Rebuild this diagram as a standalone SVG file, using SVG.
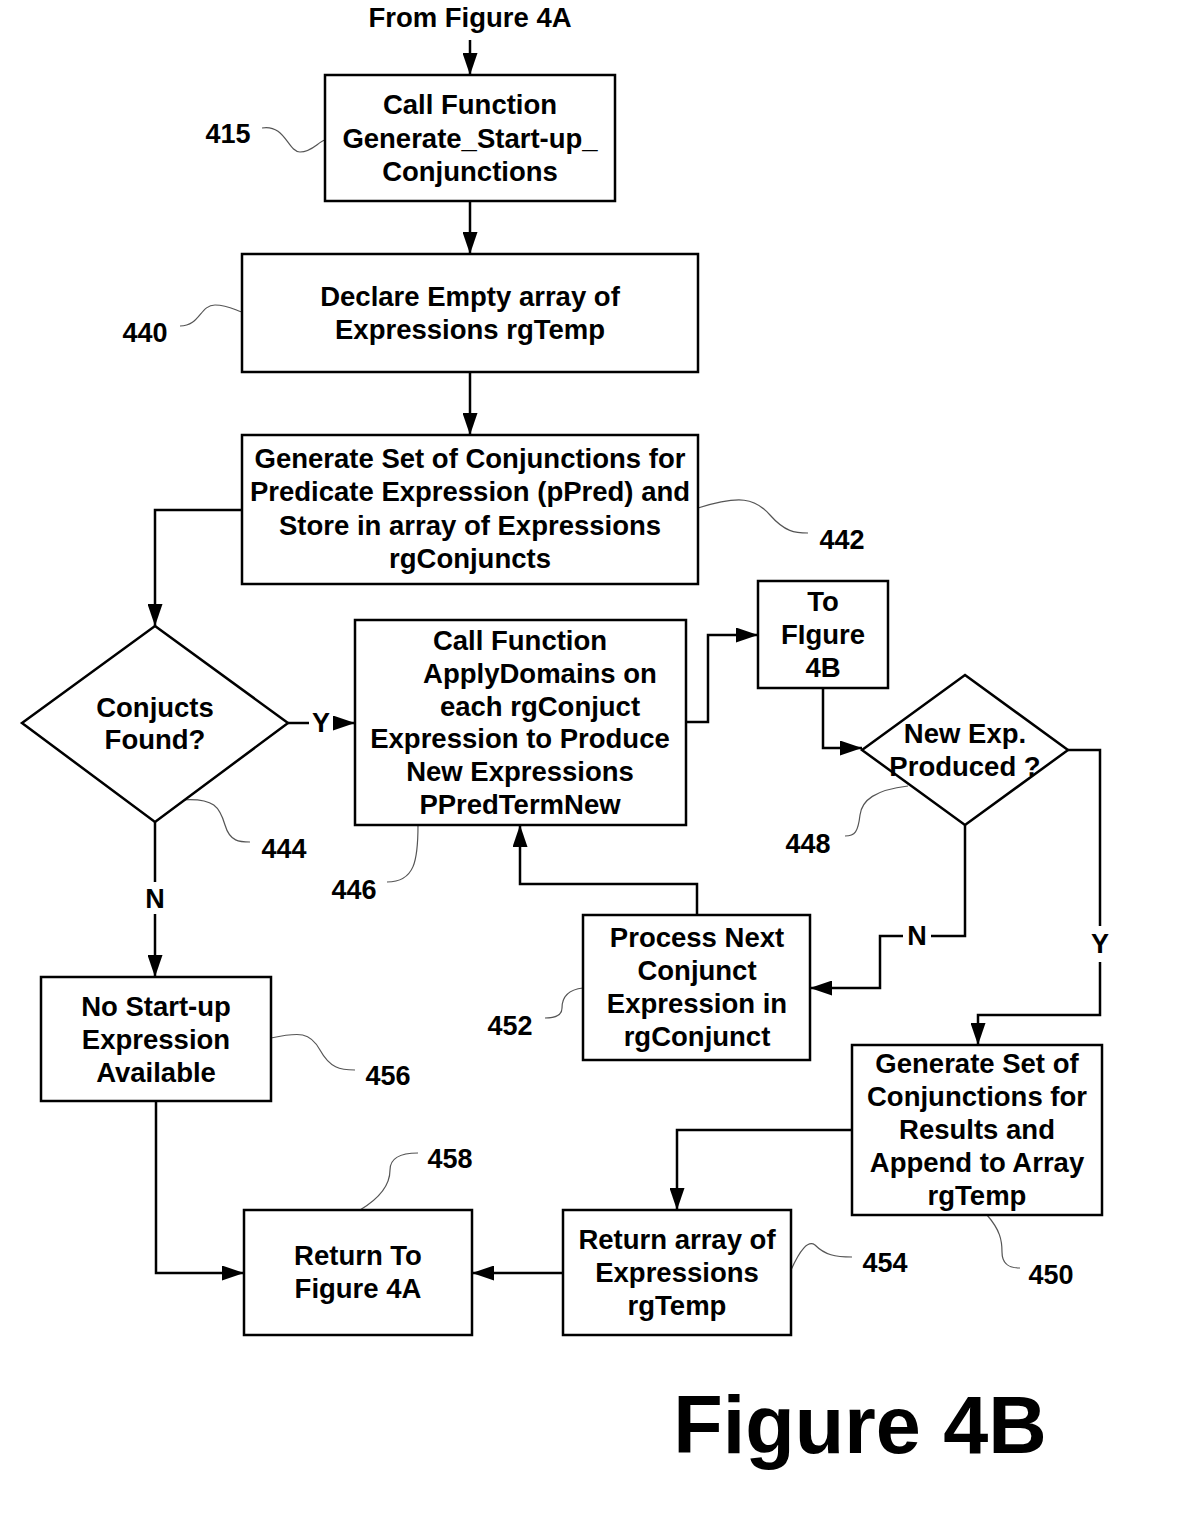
<svg xmlns="http://www.w3.org/2000/svg" width="1200" height="1526" viewBox="0 0 1200 1526">
<style>
.box{fill:#fff;stroke:#000;stroke-width:2.5}
.t{font-family:"Liberation Sans",Arial,sans-serif;font-weight:bold;font-size:27.5px;fill:#000;text-anchor:middle}
.n{font-family:"Liberation Sans",Arial,sans-serif;font-weight:bold;font-size:27px;fill:#000;text-anchor:middle}
.c{fill:none;stroke:#000;stroke-width:2.5}
.lead{fill:none;stroke:#555;stroke-width:1.2}
</style>
<defs>
<marker id="ah" viewBox="0 0 22 15" refX="22" refY="7.5" markerWidth="22" markerHeight="15" markerUnits="userSpaceOnUse" orient="auto">
<path d="M0,0 L22,7.5 L0,15 Z" fill="#000"/>
</marker>
</defs>
<rect width="1200" height="1526" fill="#fff"/>

<g id="connectors">
<path class="c" d="M470,40 V75" marker-end="url(#ah)"/>
<path class="c" d="M470,201 V254" marker-end="url(#ah)"/>
<path class="c" d="M470,372 V435" marker-end="url(#ah)"/>
<path class="c" d="M242,510 H155 V626" marker-end="url(#ah)"/>
<path class="c" d="M288,723 H309"/>
<path class="c" d="M333,723 H355" marker-end="url(#ah)"/>
<path class="c" d="M686,722 H708 V635 H758" marker-end="url(#ah)"/>
<path class="c" d="M823,688 V748 H862" marker-end="url(#ah)"/>
<path class="c" d="M1068,750 H1100 V926"/>
<path class="c" d="M1100,962 V1015 H978 V1045" marker-end="url(#ah)"/>
<path class="c" d="M965,825 V936 H931"/>
<path class="c" d="M903,936 H880 V988 H810" marker-end="url(#ah)"/>
<path class="c" d="M697,915 V884 H520 V825" marker-end="url(#ah)"/>
<path class="c" d="M155,822 V882"/>
<path class="c" d="M155,914 V977" marker-end="url(#ah)"/>
<path class="c" d="M156,1101 V1273 H244" marker-end="url(#ah)"/>
<path class="c" d="M563,1273 H472" marker-end="url(#ah)"/>
<path class="c" d="M852,1130 H677 V1210" marker-end="url(#ah)"/>
<text class="n" x="321" y="732">Y</text>
<text class="n" x="917" y="945">N</text>
<text class="n" x="1100" y="953">Y</text>
<text class="n" x="155" y="908">N</text>
</g>

<g id="leaders">
<path class="lead" d="M262,128 C285,124 288,152 300,152 C312,152 318,142 325,140"/>
<path class="lead" d="M180,326 C200,326 200,305 215,305 C228,305 235,310 242,312"/>
<path class="lead" d="M698,508 C740,495 755,498 770,515 C785,532 795,533 808,533"/>
<path class="lead" d="M180,800 C215,797 220,808 225,825 C230,842 240,842 250,842"/>
<path class="lead" d="M418,825 C418,860 415,882 387,882"/>
<path class="lead" d="M908,786 C875,790 862,800 860,815 C858,832 855,836 845,836"/>
<path class="lead" d="M583,988 C565,990 562,1000 562,1008 C562,1016 555,1018 545,1018"/>
<path class="lead" d="M271,1038 C300,1032 310,1032 320,1050 C330,1068 340,1070 355,1070"/>
<path class="lead" d="M360,1210 C385,1195 390,1180 390,1170 C390,1158 400,1153 418,1153"/>
<path class="lead" d="M791,1270 C800,1250 808,1240 815,1245 C825,1255 835,1257 852,1257"/>
<path class="lead" d="M987,1215 C1000,1230 1002,1240 1002,1252 C1002,1265 1010,1268 1020,1268"/>
</g>

<g id="start">
<text class="t" x="470" y="27">From Figure 4A</text>
</g>

<g id="n415">
<rect class="box" x="325" y="75" width="290" height="126"/>
<text class="t" x="470" y="114">Call Function</text>
<text class="t" x="470" y="148">Generate_Start-up_</text>
<text class="t" x="470" y="181">Conjunctions</text>
<text class="n" x="228" y="143">415</text>
</g>

<g id="n440">
<rect class="box" x="242" y="254" width="456" height="118"/>
<text class="t" x="470" y="306">Declare Empty array of</text>
<text class="t" x="470" y="339">Expressions rgTemp</text>
<text class="n" x="145" y="342">440</text>
</g>

<g id="n442">
<rect class="box" x="242" y="435" width="456" height="149"/>
<text class="t" x="470" y="468">Generate Set of Conjunctions for</text>
<text class="t" x="470" y="501">Predicate Expression (pPred) and</text>
<text class="t" x="470" y="535">Store in array of Expressions</text>
<text class="t" x="470" y="568">rgConjuncts</text>
<text class="n" x="842" y="549">442</text>
</g>

<g id="n444">
<polygon class="box" points="155,626 288,723 155,822 22,723"/>
<text class="t" x="155" y="717">Conjucts</text>
<text class="t" x="155" y="749">Found?</text>
<text class="n" x="284" y="858">444</text>
</g>

<g id="n446">
<rect class="box" x="355" y="620" width="331" height="205"/>
<text class="t" x="520" y="650">Call Function</text>
<text class="t" x="540" y="683">ApplyDomains on</text>
<text class="t" x="540" y="716">each rgConjuct</text>
<text class="t" x="520" y="748">Expression to Produce</text>
<text class="t" x="520" y="781">New Expressions</text>
<text class="t" x="520" y="814">PPredTermNew</text>
<text class="n" x="354" y="899">446</text>
</g>

<g id="nTo4B">
<rect class="box" x="758" y="581" width="130" height="107"/>
<text class="t" x="823" y="611">To</text>
<text class="t" x="823" y="644">FIgure</text>
<text class="t" x="823" y="677">4B</text>
</g>

<g id="n448">
<polygon class="box" points="965,675 1068,750 965,825 862,750"/>
<text class="t" x="965" y="743">New Exp.</text>
<text class="t" x="965" y="776">Produced ?</text>
<text class="n" x="808" y="853">448</text>
</g>

<g id="n452">
<rect class="box" x="583" y="915" width="227" height="145"/>
<text class="t" x="697" y="947">Process Next</text>
<text class="t" x="697" y="980">Conjunct</text>
<text class="t" x="697" y="1013">Expression in</text>
<text class="t" x="697" y="1046">rgConjunct</text>
<text class="n" x="510" y="1035">452</text>
</g>

<g id="n456">
<rect class="box" x="41" y="977" width="230" height="124"/>
<text class="t" x="156" y="1016">No Start-up</text>
<text class="t" x="156" y="1049">Expression</text>
<text class="t" x="156" y="1082">Available</text>
<text class="n" x="388" y="1085">456</text>
</g>

<g id="n450">
<rect class="box" x="852" y="1045" width="250" height="170"/>
<text class="t" x="977" y="1073">Generate Set of</text>
<text class="t" x="977" y="1106">Conjunctions for</text>
<text class="t" x="977" y="1139">Results and</text>
<text class="t" x="977" y="1172">Append to Array</text>
<text class="t" x="977" y="1205">rgTemp</text>
<text class="n" x="1051" y="1284">450</text>
</g>

<g id="n458">
<rect class="box" x="244" y="1210" width="228" height="125"/>
<text class="t" x="358" y="1265">Return To</text>
<text class="t" x="358" y="1298">Figure 4A</text>
<text class="n" x="450" y="1168">458</text>
</g>

<g id="n454">
<rect class="box" x="563" y="1210" width="228" height="125"/>
<text class="t" x="677" y="1249">Return array of</text>
<text class="t" x="677" y="1282">Expressions</text>
<text class="t" x="677" y="1315">rgTemp</text>
<text class="n" x="885" y="1272">454</text>
</g>

<g id="title">
<text x="860" y="1453" style="font-family:'Liberation Sans',Arial,sans-serif;font-weight:bold;font-size:81px;text-anchor:middle">Figure 4B</text>
</g>
</svg>
